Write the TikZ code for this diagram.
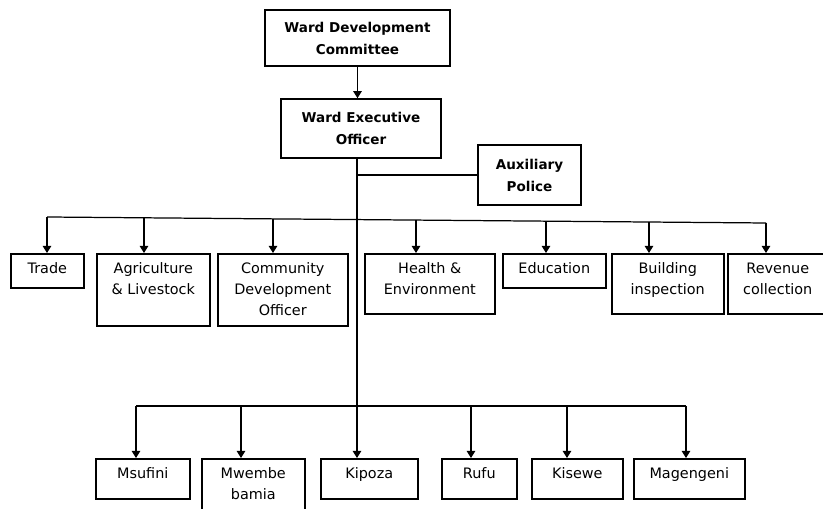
\documentclass[tikz,border=0pt]{standalone}
\usepackage{fontspec}
\setmainfont{DejaVu Sans}
\usetikzlibrary{arrows.meta}

% lines stacked from the top, first line on the baseline
\newcommand{\toplines}[1]{\begin{tabular}[t]{@{}c@{}}#1\end{tabular}}

\begin{document}
\begin{tikzpicture}[
    x=0.02cm, y=-0.02cm,
    every node/.style={rectangle, draw=black, line width=0.9pt, text centered},
    head/.style={font=\fontsize{7.7}{12.5}\selectfont\bfseries, align=center},
    unit/.style={anchor=north west, inner ysep=0pt,
        text height=0.4cm, font=\fontsize{8.2}{12}\selectfont},
    arr/.style={-{Triangle[width=4.8pt,length=4pt]}, line width=0.7pt},
    bus/.style={line width=0.7pt},
]
\useasboundingbox (0,0) rectangle (823,509);
\clip (0,0) rectangle (823,509);

% Top: committee and officer
\node[head, minimum width=3.7cm, minimum height=1.12cm] (wdc) at (357.5,38)
    {Ward Development\\Committee};
\node[head, minimum width=3.2cm, minimum height=1.18cm] (weo) at (361,128.5)
    {Ward Executive\\Officer};
\node[head, minimum width=2.06cm, minimum height=1.2cm] (aux) at (529.5,175)
    {Auxiliary\\Police};

% Row 1: sections
\node[unit, minimum width=1.46cm, text depth=0.28cm] (trade)  at (10,253)  {Trade};
\node[unit, minimum width=2.26cm, text depth=1.04cm] (agri)   at (96,253)  {\toplines{Agriculture\\\& Livestock}};
\node[unit, minimum width=2.6cm,  text depth=1.04cm] (cdo)    at (217,253) {\toplines{Community\\Development\\Officer}};
\node[unit, minimum width=2.6cm,  text depth=0.8cm]  (health) at (364,253) {\toplines{Health \&\\Environment}};
\node[unit, minimum width=2.06cm, text depth=0.28cm] (edu)    at (502,253) {Education};
\node[unit, minimum width=2.24cm, text depth=0.8cm]  (bldg)   at (611,253) {\toplines{Building\\inspection}};
\node[unit, minimum width=2.0cm,  text depth=0.8cm]  (rev)    at (727,253) {\toplines{Revenue\\collection}};

% Row 2: villages
\node[unit, minimum width=1.88cm, text depth=0.4cm] (msufini)   at (95,458)  {Msufini};
\node[unit, minimum width=2.06cm, text depth=0.8cm] (mwembe)    at (201,458) {\toplines{Mwembe\\bamia}};
\node[unit, minimum width=1.94cm, text depth=0.4cm] (kipoza)    at (320,458) {Kipoza};
\node[unit, minimum width=1.5cm,  text depth=0.4cm] (rufu)      at (441,458) {Rufu};
\node[unit, minimum width=1.82cm, text depth=0.4cm] (kisewe)    at (531,458) {Kisewe};
\node[unit, minimum width=2.22cm, text depth=0.4cm] (magengeni) at (633,458) {Magengeni};

% Main line
\draw[arr] (wdc.south) -- (wdc.south |- weo.north);
\coordinate (trunk) at (357,158);
\draw[arr] (trunk) -- (trunk |- kipoza.north);
\draw[bus] (trunk |- aux.west) -- (aux.west);

% Section bus
\coordinate (busL) at (47,217);
\coordinate (busR) at (766,223);
\draw[bus] (busL) -- (busR);
\foreach \n/\ax/\ay in {trade/47/217, agri/144/217.8, cdo/273/218.9,
    health/416/220.1, edu/546/221.2, bldg/649/222, rev/766/223}
  \draw[arr] (\ax,\ay) -- (\ax,\ay |- \n.north);

% Village bus
\coordinate (vilL) at (136,406);
\coordinate (vilR) at (686,406);
\draw[bus] (vilL) -- (vilR);
\foreach \n/\ax in {msufini/136, mwembe/241, rufu/471, kisewe/567, magengeni/686}
  \draw[arr] (\ax,406) -- (\ax,406 |- \n.north);

\end{tikzpicture}
\end{document}
